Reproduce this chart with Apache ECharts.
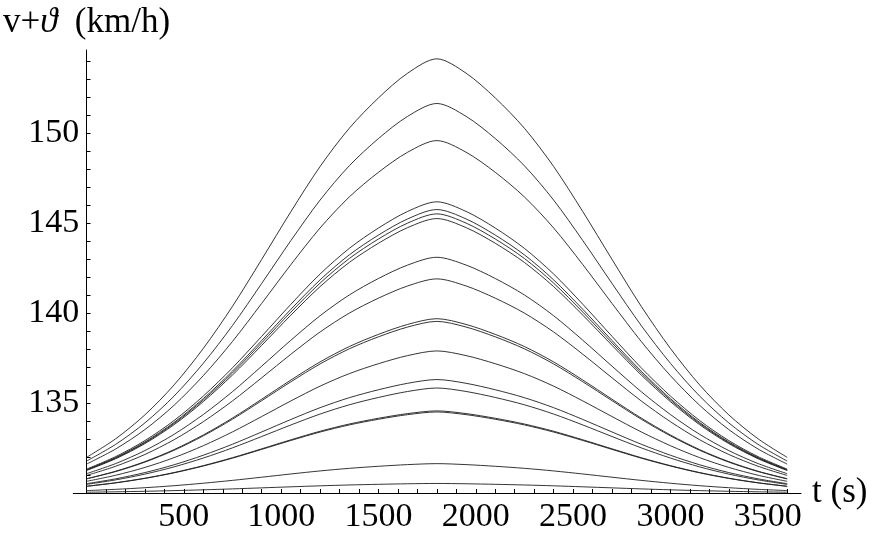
<!DOCTYPE html>
<html>
<head>
<meta charset="utf-8">
<script src="https://cdn.jsdelivr.net/npm/echarts@6/dist/echarts.min.js"></script>
<style>
  html, body { margin: 0; padding: 0; background: #fff; }
  #chart { width: 872px; height: 541px; }
</style>
</head>
<body>
<div id="chart"></div>
<script>
// time samples (s)
var times = [0, 150, 300, 450, 600, 750, 900, 1050, 1200, 1350, 1500, 1650, 1800,
             1950, 2100, 2250, 2400, 2550, 2700, 2850, 3000, 3150, 3300, 3450, 3600];
// shape of the hump (share of its rise over 130)
var profile = [0.082, 0.125, 0.18, 0.249, 0.333, 0.43, 0.538, 0.648, 0.752, 0.84, 0.91, 0.967, 1,
               0.967, 0.91, 0.84, 0.752, 0.648, 0.538, 0.43, 0.333, 0.249, 0.18, 0.125, 0.082];
// value at t = 1800 for each curve
var peaks = [154.11, 151.63, 149.57, 146.17, 145.74, 145.5, 145.24, 143.09, 141.89,
             139.68, 139.53, 137.89, 136.3, 135.83, 134.56, 134.5, 131.63, 130.53];
var base = 130;
var xLabels = [500, 1000, 1500, 2000, 2500, 3000, 3500];
var xTicks = [100, 200, 300, 400, 500, 600, 700, 800, 900, 1000, 1100, 1200, 1300, 1400,
              1500, 1600, 1700, 1800, 1900, 2000, 2100, 2200, 2300, 2400, 2500, 2600, 2700,
              2800, 2900, 3000, 3100, 3200, 3300, 3400, 3500, 3600];
var yLabels = [135, 140, 145, 150];
var yTicks = [131, 132, 133, 134, 135, 136, 137, 138, 139, 140, 141, 142, 143, 144, 145,
              146, 147, 148, 149, 150, 151, 152, 153, 154];

(function() {
    var chart = echarts.init(document.getElementById('chart'));
    var serif = 'Liberation Serif';

    var series = peaks.map(function(p) {
        return {
            type: 'line',
            showSymbol: false,
            smooth: 0.3,
            silent: true,
            lineStyle: { color: '#1e1e1e', width: 0.9 },
            data: times.map(function(t, i) {
                return [t, base + (p - base) * profile[i]];
            })
        };
    });

    option = {
        animation: false,
        backgroundColor: '#fff',
        grid: { left: 70, right: 71, top: 50, bottom: 48 },
        xAxis: {
            type: 'value',
            min: -68,
            max: 3671,
            name: 't (s)',
            nameLocation: 'end',
            nameGap: 11,
            nameTextStyle: { fontFamily: serif, fontSize: 35, color: '#000', verticalAlign: 'middle' },
            splitLine: { show: false },
            axisLine: { lineStyle: { color: '#000', width: 1 } },
            axisTick: { inside: true, length: 4, customValues: xTicks, lineStyle: { color: '#000' } },
            axisLabel: {
                customValues: xLabels, fontFamily: serif, fontSize: 34, color: '#000', margin: 7,
                formatter: function(v) { return String(v); }
            }
        },
        yAxis: {
            type: 'value',
            min: 130,
            max: 154.6,
            name: '{a|v+}{i|ϑ}{a|  (km/h)}',
            nameLocation: 'end',
            nameGap: 10,
            nameTextStyle: {
                rich: {
                    a: { fontFamily: serif, fontSize: 35, color: '#000' },
                    i: { fontFamily: serif, fontSize: 35, color: '#000', fontStyle: 'italic' }
                }
            },
            splitLine: { show: false },
            axisLine: { onZero: true, lineStyle: { color: '#000', width: 1 } },
            axisTick: { inside: true, length: 4, customValues: yTicks, lineStyle: { color: '#000' } },
            axisLabel: {
                customValues: yLabels, fontFamily: serif, fontSize: 34, color: '#000', margin: -6,
                formatter: function(v) { return String(v); }
            }
        },
        series: series
    };
    chart.setOption(option);
})();
</script>
</body>
</html>
